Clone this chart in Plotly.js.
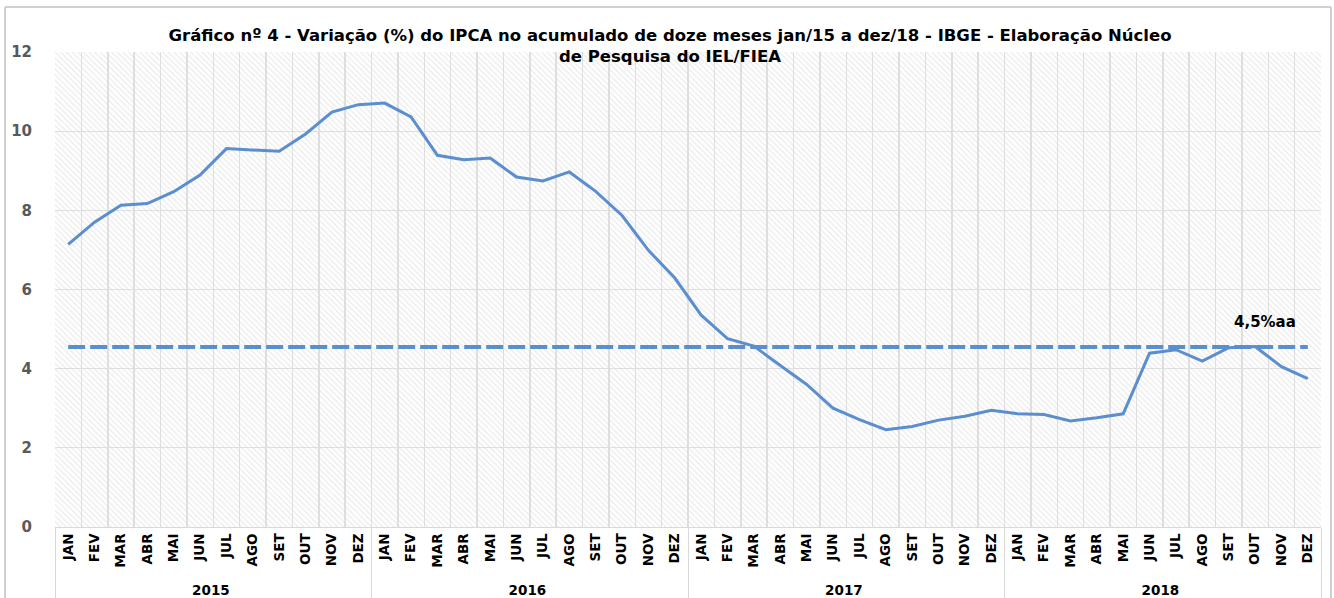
<!DOCTYPE html>
<html>
<head>
<meta charset="utf-8">
<script src="https://cdn.plot.ly/plotly-3.0.1.min.js"></script>
<style>
  html, body { margin: 0; padding: 0; background: #ffffff; }
  #chart { width: 1334px; height: 598px; }
</style>
</head>
<body>
<div id="chart"></div>
<script>
// ---- data ----
const years = ["2015", "2016", "2017", "2018"];
const months = ["JAN", "FEV", "MAR", "ABR", "MAI", "JUN", "JUL", "AGO", "SET", "OUT", "NOV", "DEZ"];
const ipca2015 = [7.14, 7.70, 8.13, 8.17, 8.47, 8.89, 9.56, 9.53, 9.49, 9.93, 10.48, 10.67];
const ipca2016 = [10.71, 10.36, 9.39, 9.28, 9.32, 8.84, 8.74, 8.97, 8.48, 7.87, 6.99, 6.29];
const ipca2017 = [5.35, 4.76, 4.57, 4.08, 3.60, 3.00, 2.71, 2.46, 2.54, 2.70, 2.80, 2.95];
const ipca2018 = [2.86, 2.84, 2.68, 2.76, 2.86, 4.39, 4.48, 4.19, 4.53, 4.56, 4.05, 3.75];
const meta = 4.55;
const metaLabel = "4,5%aa";
const yTicks = [0, 2, 4, 6, 8, 10, 12];
const titleText = "Gráfico nº 4 - Variação (%) do IPCA no acumulado de doze meses jan/15 a dez/18 - IBGE - Elaboração Núcleo<br>de Pesquisa do IEL/FIEA";

// ---- build ----
const series = [ipca2015, ipca2016, ipca2017, ipca2018];
const xYear = [], xMonth = [], yVals = [];
years.forEach((yr, i) => {
  months.forEach((m, j) => {
    xYear.push(yr); xMonth.push(m); yVals.push(series[i][j]);
  });
});
const yMax = yTicks[yTicks.length - 1];

const W = 1334, H = 598;
const mL = 55, mR = 13, mT = 52, mB = 71;
const pw = W - mL - mR, ph = H - mT - mB;
const px = v => (v - mL) / pw;
const py = v => (H - mB - v) / ph;

const FONT = "DejaVu Sans, sans-serif";
const LINE = "#5b8ecf";

const traces = [
  {
    type: "bar",
    x: [xYear, xMonth],
    y: xMonth.map(() => yMax),
    width: 1,
    marker: {
      color: "rgba(0,0,0,0)",
      line: { width: 0 },
      pattern: { shape: "\\", fgcolor: "#d6d6d6", bgcolor: "rgba(0,0,0,0)", size: 4, solidity: 0.3, fillmode: "overlay" }
    },
    hoverinfo: "skip",
    showlegend: false
  },
  {
    type: "scatter",
    mode: "lines",
    x: [xYear, xMonth],
    y: xMonth.map(() => meta),
    line: { color: LINE, width: 4, dash: "17px,5px" },
    hoverinfo: "skip",
    showlegend: false
  },
  {
    type: "scatter",
    mode: "lines",
    x: [xYear, xMonth],
    y: yVals,
    line: { color: LINE, width: 3 },
    showlegend: false
  }
];

const layout = {
  width: W, height: H,
  margin: { l: mL, r: mR, t: mT, b: mB },
  paper_bgcolor: "#ffffff",
  plot_bgcolor: "#ffffff",
  bargap: 0,
  showlegend: false,
  title: {
    text: titleText,
    font: { family: FONT, size: 16.5, color: "#000000", weight: "bold" },
    xref: "container", x: 670 / W, xanchor: "center",
    yref: "container", y: 1 - 41 / H, yanchor: "top"
  },
  xaxis: {
    type: "multicategory",
    tickson: "boundaries",
    showgrid: true,
    gridcolor: "#e0e0e0",
    gridwidth: 1.5,
    ticks: "",
    tickangle: -90,
    tickfont: { family: FONT, size: 13.5, color: "#000000", weight: "bold" },
    showline: true,
    linecolor: "#d9d9d9",
    linewidth: 1,
    showdividers: true,
    dividercolor: "#d9d9d9",
    dividerwidth: 1,
    automargin: false,
    fixedrange: true
  },
  yaxis: {
    range: [0, yMax],
    tickvals: yTicks,
    showgrid: true,
    gridcolor: "#e0e0e0",
    gridwidth: 1,
    zeroline: false,
    showline: false,
    ticks: "outside",
    ticklen: 19,
    tickcolor: "rgba(0,0,0,0)",
    tickfont: { family: FONT, size: 15, color: "#595959", weight: "bold" },
    automargin: false,
    fixedrange: true
  },
  annotations: [
    {
      xref: "paper", yref: "y",
      x: px(1265), y: 5.18,
      text: metaLabel,
      showarrow: false,
      xanchor: "center", yanchor: "middle",
      font: { family: FONT, size: 15, color: "#000000", weight: "bold" }
    }
  ],
  shapes: [
    { type: "line", xref: "paper", yref: "paper", x0: px(5), x1: px(5), y0: py(7), y1: py(H + 5), line: { color: "#d0d0d0", width: 2 } },
    { type: "line", xref: "paper", yref: "paper", x0: px(5), x1: px(1331), y0: py(7), y1: py(7), line: { color: "#d0d0d0", width: 2 } },
    { type: "line", xref: "paper", yref: "paper", x0: px(1331), x1: px(1331), y0: py(7), y1: py(H + 5), line: { color: "#d0d0d0", width: 2 } }
  ]
};

Plotly.newPlot("chart", traces, layout, { displayModeBar: false, staticPlot: true });
</script>
</body>
</html>
